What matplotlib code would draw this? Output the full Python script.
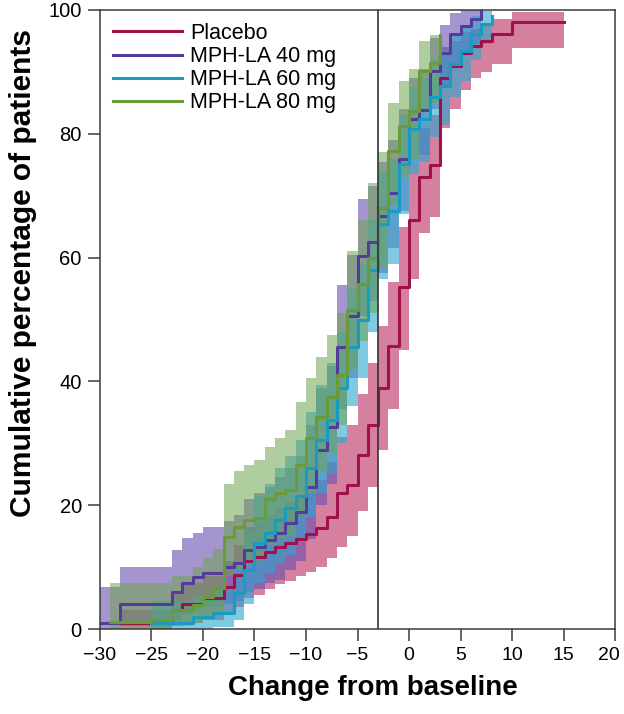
import matplotlib
matplotlib.use("Agg")
import matplotlib.pyplot as plt
from matplotlib.transforms import ScaledTranslation

plt.rcParams['font.family'] = ['Liberation Sans', 'DejaVu Sans']

# cumulative % of patients, step changes at each change-from-baseline score
pl_x = [-28, -23, -22, -20, -18, -17, -16, -15, -14, -13, -12, -11, -10, -9, -8, -7, -6, -5, -4, -3,
        -2, -1, 0, 1, 2, 3, 4, 5, 6, 7, 8, 10, 15]
pl_y = [1, 3, 4, 5, 6.8, 8.7, 11, 11.7, 12.5, 13.3, 13.9, 14.5, 15.3, 16.3, 18.1, 21.9, 23.2, 28.1, 32.9, 39,
        45.8, 55.2, 66, 73, 75, 89, 91, 93, 94.2, 95, 96.1, 98.1, 98.1]
pl_lo = [0, 0.5, 1, 1.5, 2.5, 3.5, 5, 5.5, 6.5, 7.2, 7.8, 8.5, 9.2, 10, 11.5, 13.3, 15, 19, 23, 29,
         35.5, 45, 56.5, 64, 66.5, 81, 84, 87, 89, 90, 91.2, 93.9, 93.9]
pl_hi = [3, 6, 7.5, 8.5, 11, 13.5, 16.5, 17.5, 18.5, 19.5, 20.5, 21.5, 22.5, 24, 27, 31, 33, 38, 43, 49,
         56, 65, 75, 81, 83, 94, 95, 96.5, 97, 97.7, 98.5, 99.6, 99.6]

m40_x = [-30, -28, -23, -22, -21, -20, -18, -17, -16, -15, -14, -13, -12, -11, -10, -9, -8, -7, -6, -5,
         -4, -3, -2, -1, 0, 1, 2, 3, 4, 5, 6, 7]
m40_y = [1, 4, 6, 7.5, 8.4, 9, 10, 10.6, 12.7, 13.3, 14.4, 15.5, 17.1, 18.9, 23, 29, 32.6, 45.5, 50.5, 60.3,
         62.6, 66.7, 70.5, 76, 82.4, 83.8, 90.2, 93, 96.1, 97.4, 98.5, 100]
m40_lo = [0, 0.5, 1.5, 2.5, 3, 3.5, 4, 4.5, 6, 6.5, 7.5, 8, 9.5, 11, 14.5, 20, 23.5, 35.5, 40.5, 50.5,
          53, 57.5, 61.5, 67.5, 75, 76.5, 84, 87.5, 91.5, 93, 94.5, 100]
m40_hi = [6.8, 10, 12.7, 14.7, 15.5, 16.5, 17.5, 18.5, 21, 22, 23, 24.5, 26, 28, 33, 39, 42.5, 55.5, 60.5, 69.5,
          71.5, 75.5, 79, 84, 89, 90.5, 95.5, 97.5, 99.5, 100, 100, 100]

m60_x = [-25, -21, -19, -17, -16, -15, -14, -13, -12, -11, -10, -9, -8, -7, -6, -5, -4, -3, -2, -1,
         0, 1, 2, 3, 4, 5, 6, 7, 8]
m60_y = [1, 2, 2.6, 5.8, 9.5, 13.9, 15.5, 17.6, 19.5, 21.5, 26, 30.5, 33.7, 38.9, 45.5, 50, 58, 65.5, 67.6, 75.2,
         80.8, 82.4, 85.9, 87.7, 91.3, 93.4, 96.1, 97.7, 99]
m60_lo = [0, 0, 0.3, 1.5, 4, 7.5, 9, 10.5, 12, 14, 18, 22, 25, 30, 36, 40.5, 48, 56.5, 59, 67,
          73.5, 75.5, 79.5, 81.5, 86, 88.5, 92, 94.5, 96.5]
m60_hi = [4.5, 5.5, 6.5, 11, 16, 21.5, 23.5, 26, 28, 30.5, 35, 39.5, 43, 48, 55, 59, 66, 74, 76, 83,
          87.5, 89, 92, 93.5, 96, 97.5, 99, 99.8, 100]

m80_x = [-29, -25, -23, -21, -20, -19, -18, -17, -16, -15, -14, -13, -12, -11, -10, -9, -8, -7, -6, -5,
         -4, -3, -2, -1, 0, 1, 2, 3]
m80_y = [1.2, 1.5, 3, 3.9, 5.2, 6.6, 14.9, 16.5, 17.6, 18, 21, 21.9, 22.5, 26.5, 30.8, 34.2, 37.5, 41, 51.5, 55.8,
         60, 68, 77.3, 81.3, 83.7, 90.2, 91.5, 96]
m80_lo = [0, 0, 0.5, 1, 1.5, 2.5, 8.5, 9.5, 10.5, 11, 13.5, 14.5, 15, 18.5, 22, 25.5, 28.5, 33, 42, 46.5,
          51, 58.5, 68.5, 73, 76, 83.5, 85, 90.5]
m80_hi = [7.5, 7.5, 8.5, 10, 11.5, 13, 23.5, 25.6, 26.5, 27.3, 29.4, 30.8, 32.1, 36.7, 40.5, 44, 47.5, 51, 61, 66,
          72, 77, 85, 88.5, 90.5, 95, 96, 99]

labels = ['Placebo', 'MPH-LA 40 mg', 'MPH-LA 60 mg', 'MPH-LA 80 mg']
line_cols = ['#a0104a', '#553c9a', '#1a9cc0', '#6a9a3c']
band_cols = ['#b8245a', '#6a4fb0', '#2aa8d0', '#6fa552']
band_alpha = [0.58, 0.6, 0.6, 0.55]

series = [(pl_x, pl_y, pl_lo, pl_hi), (m40_x, m40_y, m40_lo, m40_hi),
          (m60_x, m60_y, m60_lo, m60_hi), (m80_x, m80_y, m80_lo, m80_hi)]

fig = plt.figure(figsize=(6.24, 7.14), dpi=100)
ax = fig.add_axes([0.16, 0.119, 0.826, 0.867])

for (x, y, lo, hi), c, a in zip(series, band_cols, band_alpha):
    ax.fill_between(x, lo, hi, step='post', color=c, alpha=a, linewidth=0)

for (x, y, lo, hi), c, lab in zip(series, line_cols, labels):
    ax.step(x, y, where='post', color=c, linewidth=2.2, label=lab)

ax.axvline(-3, color='#333333', linewidth=1.2)

ax.set_xlim(-30, 20)
ax.set_ylim(0, 100)
ax.set_xticks(range(-30, 21, 5))
ax.set_yticks(range(0, 101, 20))
ax.set_xticklabels([str(v).replace('-', '\u2212') for v in range(-30, 21, 5)])

for s in ax.spines.values():
    s.set_color('#3a3a3a')
    s.set_linewidth(1.1)
ax.tick_params(direction='out', length=8.5, width=1.1, color='#3a3a3a', labelsize=14.5, pad=4.5)
ax.tick_params(axis='x', labelsize=14)

# last x label sits a bit inside the figure edge
last = ax.get_xticklabels()[-1]
last.set_transform(last.get_transform() + ScaledTranslation(-6 / 100, 0, fig.dpi_scale_trans))

ax.set_xlabel('Change from baseline', fontsize=20, fontweight='bold', labelpad=12)
ax.set_ylabel('Cumulative percentage of patients', fontsize=21.5, fontweight='bold')
ax.xaxis.set_label_coords(0.53, -0.075)
ax.yaxis.set_label_coords(-0.122, 0.575)

ax.legend(loc='upper left', frameon=False, fontsize=15.5, handlelength=3.2,
          handletextpad=0.4, labelspacing=0.1, borderaxespad=0.3, borderpad=0.3)

fig.savefig('out.png', dpi=100)
